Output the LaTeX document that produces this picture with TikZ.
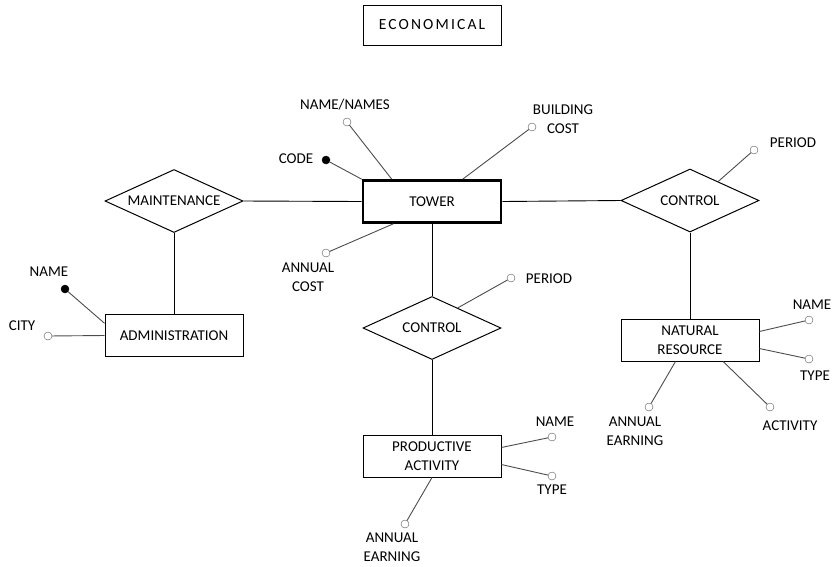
\documentclass[tikz,border=0pt]{standalone}
\usepackage{fontspec}
\setmainfont{Carlito}
\newfontfamily\titlefont[LetterSpace=14]{Carlito}
\usetikzlibrary{shapes.geometric,positioning}
\tikzstyle{entity} = [draw,line width=1pt,rectangle,minimum width=138pt,minimum height=42pt,inner sep=0,align=center]
\tikzstyle{strong} = [entity,line width=2.6pt]
\tikzstyle{relation} = [draw,line width=1pt,diamond,shape aspect=2.2,minimum width=138pt,minimum height=63pt,inner sep=0]
\tikzstyle{attr} = [draw=black!65,circle,minimum size=8pt,inner sep=0pt,outer sep=0pt,fill=white]
\tikzstyle{keyattr} = [attr,draw=black,fill=black]
\tikzstyle{rel} = [-,line width=0.9pt]
\tikzstyle{link} = [-,draw=black!70,line width=0.9pt]
\tikzstyle{tag} = [align=center,inner sep=0pt]

\begin{document}
\begin{tikzpicture}[x=1pt,y=-1pt,font=\fontsize{15}{18.5}\selectfont]
      \useasboundingbox (0,0) rectangle (835,566);
      % title
      \node[entity,line width=0.9pt,minimum height=40pt,font=\titlefont\fontsize{15.5}{18}\selectfont] (title) at (432,25) {ECONOMICAL};

      % entities and relations
      \node[strong] (tower) at (432,201.5) {TOWER};
      \node[relation] (maint) at (174,201) {MAINTENANCE};
      \node[entity] (admin) at (174,335.5) {ADMINISTRATION};
      \node[relation] (ctrlmid) at (432,328) {CONTROL};
      \node[entity] (prod) at (432,456) {PRODUCTIVE\\ACTIVITY};
      \node[relation] (ctrlright) at (690,200.5) {CONTROL};
      \node[entity] (nat) at (690,340) {NATURAL\\RESOURCE};

      \draw[rel] (tower.west) -- (maint.east);
      \draw[rel] (maint.south) -- (admin.north);
      \draw[rel] (tower.south) -- (ctrlmid.north);
      \draw[rel] (ctrlmid.south) -- (prod.north);
      \draw[rel] (tower.east) -- (ctrlright.west);
      \draw[rel] (ctrlright.south) -- (nat.north);

      % tower attributes
      \node[keyattr] (code) at (326,160) {};
      \node[tag] (codet) at (296,159) {CODE};
      \node[attr] (names) at (347,122) {};
      \node[tag] (namest) at (345,105) {NAME/NAMES};
      \node[attr] (bcost) at (532,127) {};
      \node[tag] (bcostt) at (563,119) {BUILDING\\COST};
      \node[attr] (acost) at (326,253) {};
      \node[tag] (acostt) at (308,277) {ANNUAL\\COST};
      \draw[link] (tower.north west) -- (code);
      \draw[link] (tower.151) -- (names);
      \draw[link] (tower.36) -- (bcost);
      \draw[link] (tower.210) -- (acost);

      % administration attributes
      \node[keyattr] (aname) at (65,289) {};
      \node[tag] (anamet) at (49,272) {NAME};
      \node[attr] (city) at (48,336) {};
      \node[tag] (cityt) at (22,326) {CITY};
      \draw[link] (admin.170) -- (aname);
      \draw[link] (admin.west) -- (city);

      % control attributes
      \node[attr] (mperiod) at (511,278) {};
      \node[tag] (mperiodt) at (549,279) {PERIOD};
      \draw[link] (ctrlmid.38) -- (mperiod);
      \node[attr] (rperiod) at (754,150) {};
      \node[tag] (rperiodt) at (793,143) {PERIOD};
      \draw[link] (ctrlright.34) -- (rperiod);

      % productive activity attributes
      \node[attr] (pname) at (552,437) {};
      \node[tag] (pnamet) at (555,422) {NAME};
      \node[attr] (ptype) at (552,476) {};
      \node[tag] (ptypet) at (552,490) {TYPE};
      \node[attr] (pearn) at (405,524) {};
      \node[tag] (pearnt) at (392,547) {ANNUAL\\EARNING};
      \draw[link] (prod.7) -- (pname);
      \draw[link] (prod.353) -- (ptype);
      \draw[link] (prod.south) -- (pearn);

      % natural resource attributes
      \node[attr] (nname) at (809,320) {};
      \node[tag] (nnamet) at (812,305) {NAME};
      \node[attr] (ntype) at (809,359) {};
      \node[tag] (ntypet) at (815,376) {TYPE};
      \node[attr] (nearn) at (649,407) {};
      \node[tag] (nearnt) at (635,431) {ANNUAL\\EARNING};
      \node[attr] (nact) at (770,407) {};
      \node[tag] (nactt) at (790,426) {ACTIVITY};
      \draw[link] (nat.7) -- (nname);
      \draw[link] (nat.353) -- (ntype);
      \draw[link] (nat.236) -- (nearn);
      \draw[link] (nat.327) -- (nact);
    \end{tikzpicture}
\end{document}
